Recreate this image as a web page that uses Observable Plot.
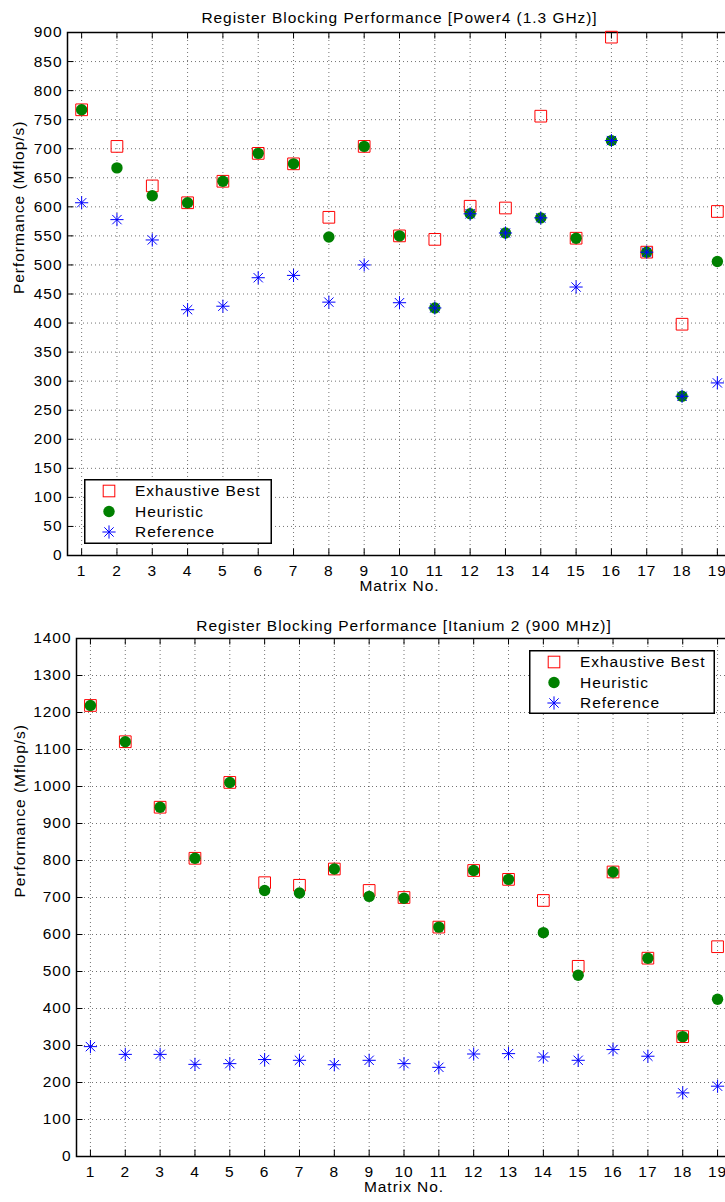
<!DOCTYPE html>
<html>
<head>
<meta charset="utf-8">
<script src="https://cdn.jsdelivr.net/npm/d3@7"></script>
<script src="https://cdn.jsdelivr.net/npm/@observablehq/plot@0.6"></script>
<style>
  html, body { margin: 0; padding: 0; background: #fff; overflow: hidden; }
  #wrap { position: relative; width: 725px; height: 1202px; overflow: hidden; background: #fff; }
  .panel { position: absolute; left: 0; width: 760px; }
  .panel svg { max-width: none !important; }
  .legend { position: absolute; }
</style>
</head>
<body>
<div id="wrap"></div>
<script>
// ---------------- data ----------------
const matrixNo = [1, 2, 3, 4, 5, 6, 7, 8, 9, 10, 11, 12, 13, 14, 15, 16, 17, 18, 19];

// Power4 (1.3 GHz)
const p4Exhaustive = [767, 704, 636, 607, 644, 692, 674, 582, 704, 550, 544, 601, 598, 756, 546, 892, 522, 398, 592];
const p4Heuristic  = [767, 667, 619, 607, 644, 692, 674, 548, 704, 550, 426, 588, 555, 581, 546, 714, 522, 274, 506];
const p4Reference  = [607, 578, 543, 423, 429, 478, 482, 436, 500, 435, 426, 588, 555, 581, 462, 714, 522, 274, 297];
const p4YTicks = [0, 50, 100, 150, 200, 250, 300, 350, 400, 450, 500, 550, 600, 650, 700, 750, 800, 850, 900];

// Itanium 2 (900 MHz)
const itExhaustive = [1219, 1121, 944, 806, 1011, 740, 733, 777, 719, 700, 620, 773, 749, 692, 514, 769, 536, 324, 567];
const itHeuristic  = [1219, 1121, 944, 806, 1011, 719, 712, 777, 703, 698, 620, 773, 749, 605, 490, 769, 536, 324, 425];
const itReference  = [297, 276, 276, 249, 251, 262, 260, 248, 260, 251, 241, 277, 278, 269, 260, 289, 271, 172, 190];
const itYTicks = [0, 100, 200, 300, 400, 500, 600, 700, 800, 900, 1000, 1100, 1200, 1300, 1400];

const seriesNames = ["Exhaustive Best", "Heuristic", "Reference"];
const titles = [
  "Register Blocking Performance [Power4 (1.3 GHz)]",
  "Register Blocking Performance [Itanium 2 (900 MHz)]"
];
const xLabel = "Matrix No.";
const yLabel = "Performance (Mflop/s)";

// ---------------- styling ----------------
const FONT = "'Liberation Sans', Arial, Helvetica, sans-serif";
const FS = "15.5px";
const LS = "0.95px";
const RED = "#ff0000", GREEN = "#008000", BLUE = "#0000ff";
const TICK = 6.5;

// MATLAB-like 8-arm asterisk
const asterisk8 = {
  draw(ctx, size) {
    const r = Math.sqrt(size / Math.PI);
    const d = r * Math.SQRT1_2;
    ctx.moveTo(-r, 0); ctx.lineTo(r, 0);
    ctx.moveTo(0, -r); ctx.lineTo(0, r);
    ctx.moveTo(-d, -d); ctx.lineTo(d, d);
    ctx.moveTo(-d, d); ctx.lineTo(d, -d);
  }
};

function rows(values) {
  return matrixNo.map((m, i) => ({m, v: values[i]}));
}

function makePanel(cfg) {
  const W = 760;
  const plotW = W - cfg.marginLeft - cfg.marginRight;
  const plotH = cfg.height - cfg.marginTop - cfg.marginBottom;
  const gridStyle = {stroke: "#000", strokeOpacity: 0.55, strokeDasharray: "1,3", strokeWidth: 1};
  return Plot.plot({
    width: W,
    height: cfg.height,
    marginLeft: cfg.marginLeft,
    marginRight: cfg.marginRight,
    marginTop: cfg.marginTop,
    marginBottom: cfg.marginBottom,
    style: {fontFamily: FONT, fontSize: FS, letterSpacing: LS, color: "#000", background: "#fff", overflow: "visible", maxWidth: "none"},
    x: {domain: [0.6, 19.4], label: null},
    y: {domain: [0, cfg.yTicks[cfg.yTicks.length - 1]], label: null},
    marks: [
      Plot.gridX(matrixNo, gridStyle),
      Plot.gridY(cfg.yTicks, gridStyle),
      Plot.ruleX(matrixNo, {insetTop: plotH - TICK, stroke: "#000", strokeWidth: 1}),
      Plot.ruleX(matrixNo, {insetBottom: plotH - TICK, stroke: "#000", strokeWidth: 1}),
      Plot.ruleY(cfg.yTicks, {insetRight: plotW - TICK, stroke: "#000", strokeWidth: 1}),
      Plot.axisX(matrixNo, {tickSize: 0, tickPadding: 9, label: null, fill: "#000", tickFormat: d => String(d)}),
      Plot.axisY(cfg.yTicks, {tickSize: 0, tickPadding: 5, label: null, fill: "#000", tickFormat: d => String(d)}),
      Plot.frame({stroke: "#000", strokeWidth: 1.5}),
      Plot.dot(rows(cfg.exh), {x: "m", y: "v", symbol: "square", r: 6.6, stroke: RED, fill: "none", strokeWidth: 1}),
      Plot.dot(rows(cfg.heu), {x: "m", y: "v", symbol: "circle", r: 5.7, fill: GREEN, stroke: "none"}),
      Plot.dot(rows(cfg.ref), {x: "m", y: "v", symbol: asterisk8, r: 6.6, stroke: BLUE, fill: "none", strokeWidth: 1}),
      Plot.text([cfg.title], {frameAnchor: "top", dy: cfg.titleDy, fill: "#000"}),
      Plot.text([xLabel], {frameAnchor: "bottom", dy: cfg.xLabelDy, fill: "#000"}),
      Plot.text([yLabel], {frameAnchor: "left", dx: cfg.yLabelDx, rotate: -90, fill: "#000"})
    ]
  });
}

function makeLegend(w, h) {
  const svg = d3.create("svg").attr("width", w).attr("height", h)
    .style("font-family", FONT).style("font-size", FS).style("letter-spacing", LS).style("overflow", "visible");
  svg.append("rect").attr("x", 0.75).attr("y", 0.75).attr("width", w - 1.5).attr("height", h - 1.5)
    .attr("fill", "#fff").attr("stroke", "#000").attr("stroke-width", 1.5);
  const sx = 25, tx = 51, ys = [12, 32.5, 53];
  svg.append("rect").attr("x", sx - 5.8).attr("y", ys[0] - 5.8).attr("width", 11.6).attr("height", 11.6)
    .attr("fill", "none").attr("stroke", RED).attr("stroke-width", 1);
  svg.append("circle").attr("cx", sx).attr("cy", ys[1]).attr("r", 5.7).attr("fill", GREEN);
  svg.append("path").attr("transform", `translate(${sx},${ys[2]})`)
    .attr("d", d3.symbol(asterisk8, Math.PI * 6.6 * 6.6)())
    .attr("fill", "none").attr("stroke", BLUE).attr("stroke-width", 1);
  seriesNames.forEach((name, i) => {
    svg.append("text").attr("x", tx).attr("y", ys[i]).attr("dy", "0.35em").attr("fill", "#000").text(name);
  });
  return svg.node();
}

const wrap = document.getElementById("wrap");

const top1 = document.createElement("div");
top1.className = "panel"; top1.style.top = "0px";
top1.appendChild(makePanel({
  title: titles[0], exh: p4Exhaustive, heu: p4Heuristic, ref: p4Reference, yTicks: p4YTicks,
  height: 600, marginTop: 32, marginBottom: 45, marginLeft: 67, marginRight: 29,
  titleDy: -20.5, xLabelDy: 35.5, yLabelDx: -48
}));
wrap.appendChild(top1);

const bot = document.createElement("div");
bot.className = "panel"; bot.style.top = "600px";
bot.appendChild(makePanel({
  title: titles[1], exh: itExhaustive, heu: itHeuristic, ref: itReference, yTicks: itYTicks,
  height: 602, marginTop: 38, marginBottom: 46, marginLeft: 76, marginRight: 29,
  titleDy: -19, xLabelDy: 35.5, yLabelDx: -56.5
}));
wrap.appendChild(bot);

const leg1 = document.createElement("div");
leg1.className = "legend"; leg1.style.left = "84px"; leg1.style.top = "479px";
leg1.appendChild(makeLegend(188, 65));
wrap.appendChild(leg1);

const leg2 = document.createElement("div");
leg2.className = "legend"; leg2.style.left = "529px"; leg2.style.top = "650px";
leg2.appendChild(makeLegend(186, 64));
wrap.appendChild(leg2);
</script>
</body>
</html>
